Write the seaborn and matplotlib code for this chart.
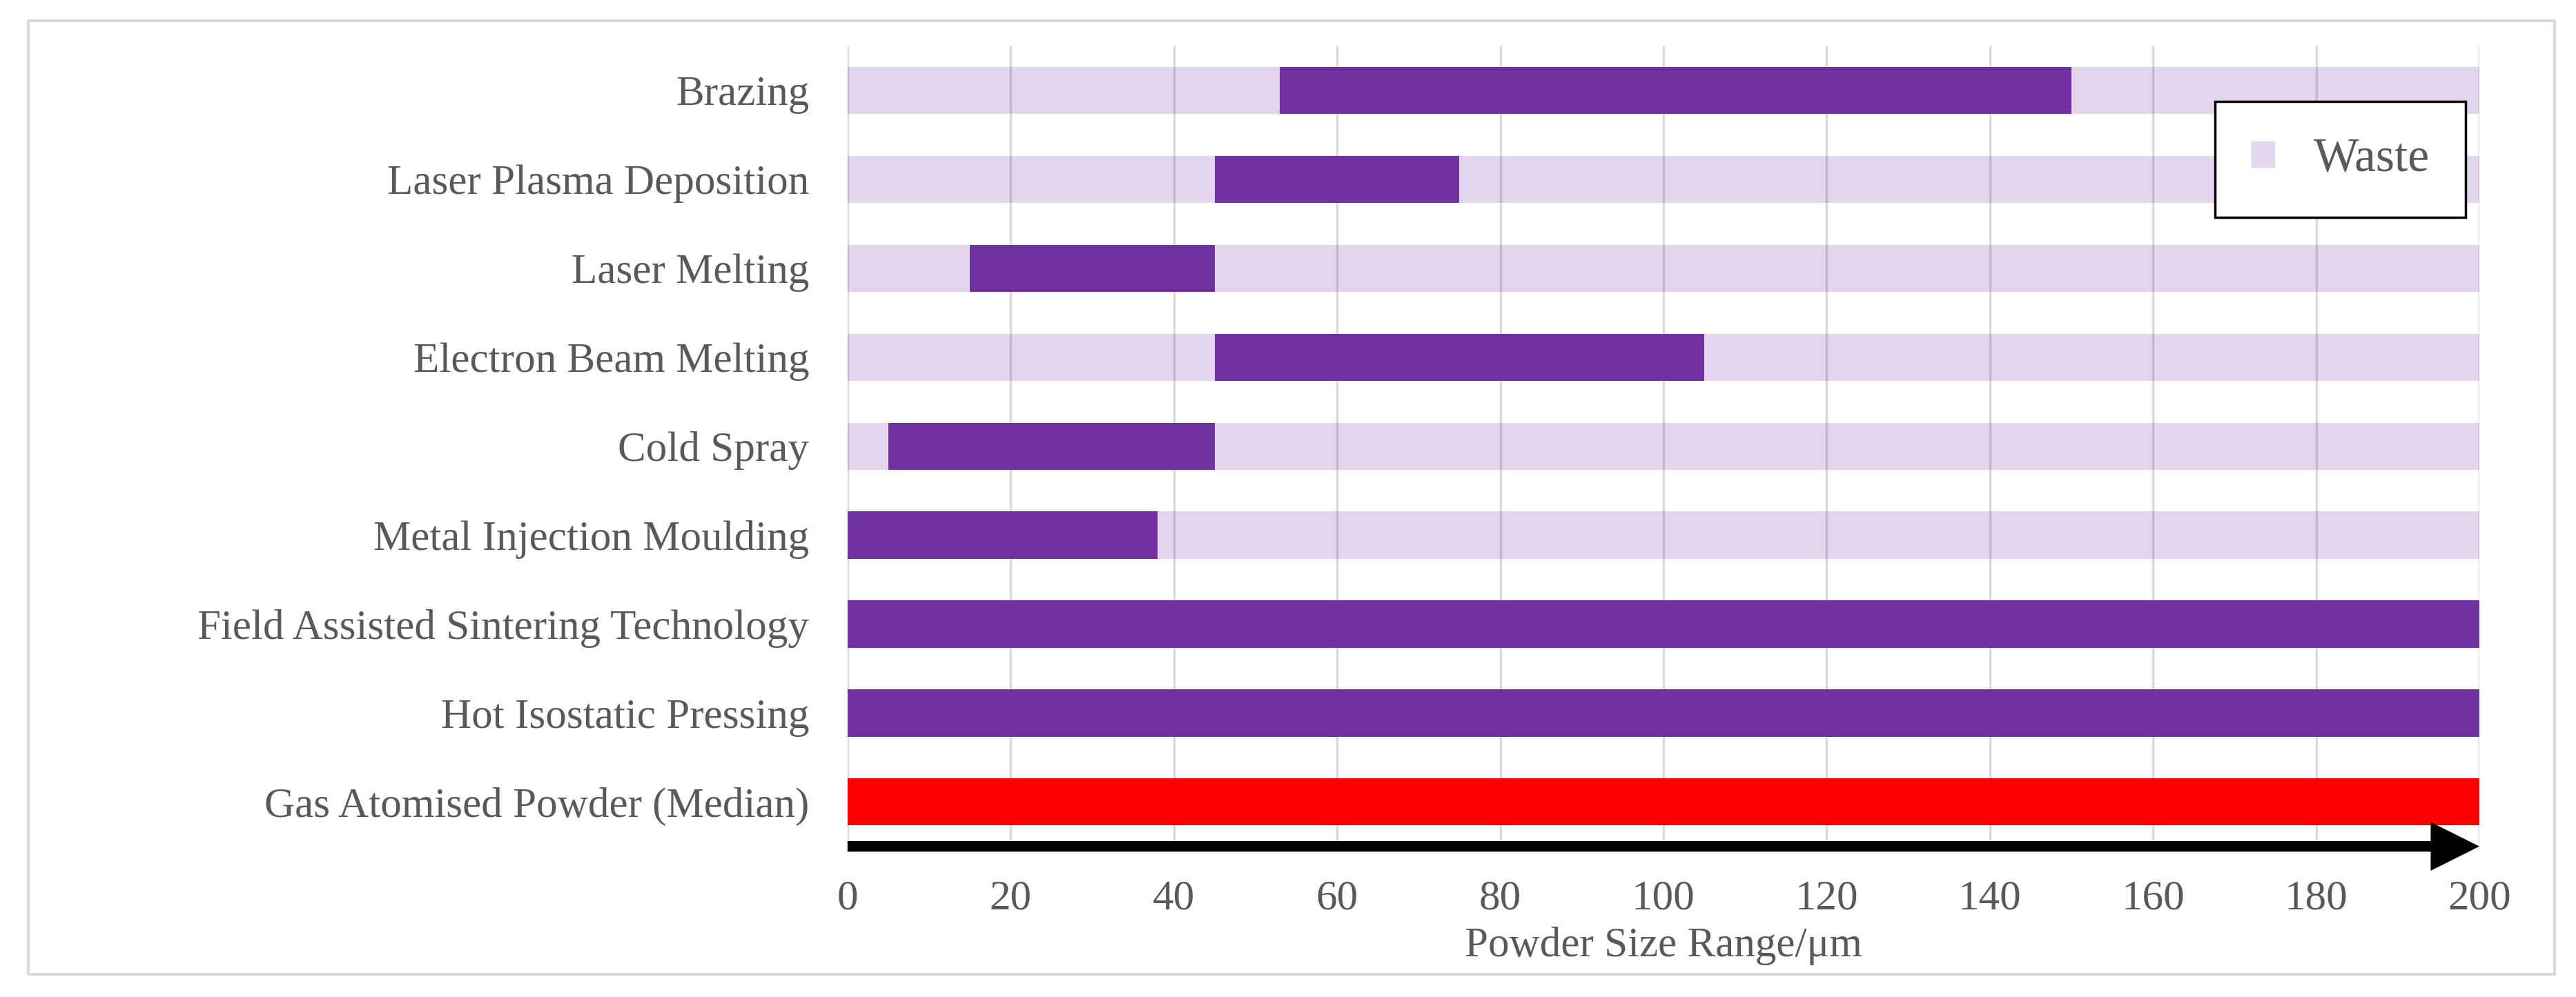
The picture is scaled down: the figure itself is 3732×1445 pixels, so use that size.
"""Powder size ranges used by each consolidation / AM process versus gas atomised powder."""

import matplotlib.pyplot as plt
import numpy as np
import seaborn as sns
from matplotlib.patches import Patch, Rectangle

processes = [
    "Brazing",
    "Laser Plasma Deposition",
    "Laser Melting",
    "Electron Beam Melting",
    "Cold Spray",
    "Metal Injection Moulding",
    "Field Assisted Sintering Technology",
    "Hot Isostatic Pressing",
    "Gas Atomised Powder (Median)",
]
# usable powder size window per process (um)
range_start = [53, 45, 15, 45, 5, 0, 0, 0, 0]
range_end = [150, 75, 45, 105, 45, 38, 200, 200, 200]
# full powder distribution that is otherwise wasted
waste_extent = [200, 200, 200, 200, 200, 200, 200, 200, 0]
x_ticks = [0, 20, 40, 60, 80, 100, 120, 140, 160, 180, 200]

PURPLE = "#7030A0"
RED = "#FF0000"
TEXT = "#595959"
GRID = "#D9D9D9"
range_colors = [PURPLE] * 8 + [RED]

sns.set_theme(style="white")
plt.rcParams["font.family"] = ["Liberation Serif", "DejaVu Serif"]

fig = plt.figure(figsize=(37.32, 14.45), dpi=100)
ax = fig.add_axes([0.329, 0.1467, 0.6335, 0.8069])

sns.barplot(
    x=waste_extent,
    y=processes,
    orient="h",
    color=PURPLE,
    alpha=0.2,
    saturation=1,
    width=0.53,
    linewidth=0,
    ax=ax,
)

positions = np.arange(len(processes))
widths = np.array(range_end) - np.array(range_start)
ax.barh(positions, widths, left=range_start, height=0.53, color=range_colors, linewidth=0, zorder=3)

ax.set_xlim(0, 200)
ax.set_ylim(8.549, -0.497)
ax.set_xticks(x_ticks)
ax.grid(axis="x", color=GRID, linewidth=2.5)
ax.grid(axis="y", visible=False)
ax.set_axisbelow(True)
for spine in ax.spines.values():
    spine.set_visible(False)

ax.tick_params(axis="y", length=0, pad=40, labelsize=44, labelcolor=TEXT)
ax.tick_params(axis="x", length=0, pad=30, labelsize=44, labelcolor=TEXT)
ax.set_xlabel("Powder Size Range/\u03bcm", fontsize=44, color=TEXT, labelpad=9)
ax.set_ylabel("")

# size axis arrow under the bars
ax.annotate(
    "",
    xy=(200, 8.5),
    xytext=(0, 8.5),
    arrowprops=dict(
        arrowstyle="-|>,head_length=1.0,head_width=0.5",
        mutation_scale=33,
        lw=11,
        color="black",
        shrinkA=0,
        shrinkB=0,
        capstyle="butt",
        joinstyle="miter",
    ),
    annotation_clip=False,
    zorder=4,
)

legend = ax.legend(
    handles=[Patch(facecolor=PURPLE, alpha=0.2, label="Waste")],
    loc="upper right",
    bbox_to_anchor=(0.9915, 0.931),
    fontsize=50,
    frameon=True,
    fancybox=False,
    borderpad=0.75,
    handlelength=0.5,
    handleheight=0.5,
    handletextpad=0.8,
    borderaxespad=0,
    labelcolor=TEXT,
)
legend.get_frame().set_edgecolor("black")
legend.get_frame().set_linewidth(2.5)
legend.get_frame().set_alpha(1)
legend.set_zorder(5)

fig.add_artist(
    Rectangle(
        (41 / 3732, 1 - 1412 / 1445),
        (3701 - 41) / 3732,
        (1412 - 30) / 1445,
        transform=fig.transFigure,
        fill=False,
        edgecolor=GRID,
        linewidth=3,
    )
)

fig.savefig("out.png", dpi=100)
plt.close(fig)
